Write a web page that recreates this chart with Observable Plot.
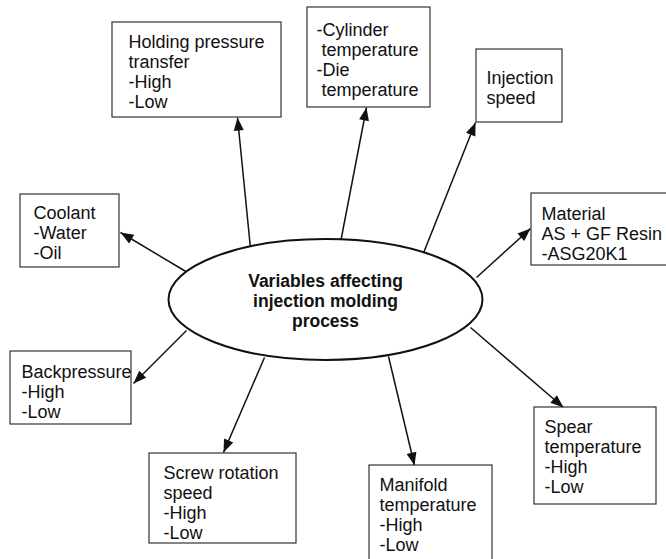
<!DOCTYPE html>
<html>
<head>
<meta charset="utf-8">
<script src="https://cdn.jsdelivr.net/npm/d3@7"></script>
<script src="https://cdn.jsdelivr.net/npm/@observablehq/plot@0.6"></script>
<style>
  html, body { margin: 0; padding: 0; background: #fff; }
  #chart svg { display: block; }
</style>
</head>
<body>
<div id="chart"></div>
<script>
// ---- Diagram content (layout units = pixels of the original figure) ----
const centerLabel = "Variables affecting\ninjection molding\nprocess";
const centerPos = [325, 299];

const labels = [
  "Holding pressure\ntransfer\n-High\n-Low",
  "-Cylinder\n\u00a0temperature\n-Die\n\u00a0temperature",
  "Injection\nspeed",
  "Material\nAS + GF Resin\n-ASG20K1",
  "Spear\ntemperature\n-High\n-Low",
  "Manifold\ntemperature\n-High\n-Low",
  "Screw rotation\nspeed\n-High\n-Low",
  "Backpressure\n-High\n-Low",
  "Coolant\n-Water\n-Oil"
];
const boxLeft   = [112, 307, 476, 531, 534, 369, 149, 10, 20];
const boxRight  = [281, 430, 562, 670, 656, 492, 296, 131, 119];
const boxTop    = [22, 7, 49, 193, 407, 465, 453, 351, 194];
const boxBottom = [117, 107, 122, 265, 504, 565, 543, 424, 267];
const textLeft  = [128, 316, 486, 541, 544, 379, 163, 21, 33];
const textTop   = [33, 21, 69, 205, 418, 476, 464, 363, 204];

const arrowStartX = [250, 340, 422, 476, 470, 388, 264, 186, 187];
const arrowStartY = [248, 242, 255, 277, 327, 356, 357, 330, 272];
const arrowEndX   = [237, 366, 475, 530, 563, 414, 223, 133, 120];
const arrowEndY   = [117, 107, 122, 228, 407, 465, 452, 383, 232];

// ---- Tables built from the arrays ----
const boxes = labels.map((label, i) => ({
  label, x1: boxLeft[i], x2: boxRight[i], y1: boxTop[i], y2: boxBottom[i],
  tx: textLeft[i], ty: textTop[i]
}));
const arrows = labels.map((_, i) => ({
  sx: arrowStartX[i], sy: arrowStartY[i], ex: arrowEndX[i], ey: arrowEndY[i]
}));
const center = [{x: centerPos[0], y: centerPos[1], label: centerLabel}];

// custom ellipse symbol (width from size, fixed aspect)
const ellipseSymbol = {
  draw(context, size) {
    const rx = Math.sqrt(size / Math.PI);
    const ry = rx * 0.385;
    const k = 0.5522847498;
    context.moveTo(rx, 0);
    context.bezierCurveTo(rx, ry * k, rx * k, ry, 0, ry);
    context.bezierCurveTo(-rx * k, ry, -rx, ry * k, -rx, 0);
    context.bezierCurveTo(-rx, -ry * k, -rx * k, -ry, 0, -ry);
    context.bezierCurveTo(rx * k, -ry, rx, -ry * k, rx, 0);
    context.closePath();
  }
};

const font = "'Liberation Sans', Arial, Helvetica, sans-serif";
const W = 666, H = 559;

const chart = Plot.plot({
  width: W,
  height: H,
  margin: 0,
  style: {background: "#fff", overflow: "hidden"},
  x: {domain: [0, W], range: [0, W], axis: null},
  y: {domain: [0, H], range: [0, H], axis: null},
  marks: [
    Plot.link(arrows, {
      x1: "sx", y1: "sy", x2: "ex", y2: "ey",
      stroke: "#111", strokeWidth: 1.5
    }),
    Plot.dot(center, {
      x: "x", y: "y", r: 157, symbol: ellipseSymbol,
      fill: "white", stroke: "#111", strokeWidth: 2
    }),
    Plot.rect(boxes, {
      x1: "x1", x2: "x2", y1: "y1", y2: "y2",
      fill: "white", stroke: "#333", strokeWidth: 1.2
    }),
    Plot.vector(arrows, {
      x: "ex", y: "ey",
      rotate: d => Math.atan2(d.ex - d.sx, -(d.ey - d.sy)) * 180 / Math.PI,
      length: 13, r: 5, shape: "spike", anchor: "end",
      fill: "#111", stroke: "none"
    }),
    Plot.text(boxes, {
      x: "tx", y: "ty", text: "label",
      textAnchor: "start", lineAnchor: "top", lineHeight: 1.11,
      fontSize: 18, fontFamily: font, fill: "#111"
    }),
    Plot.text(center, {
      x: "x", y: d => d.y - 27, text: "label",
      textAnchor: "middle", lineAnchor: "top", lineHeight: 1.15,
      fontSize: 17.5, fontWeight: "bold", fontFamily: font, fill: "#111"
    })
  ]
});
document.getElementById("chart").append(chart);
</script>
</body>
</html>
